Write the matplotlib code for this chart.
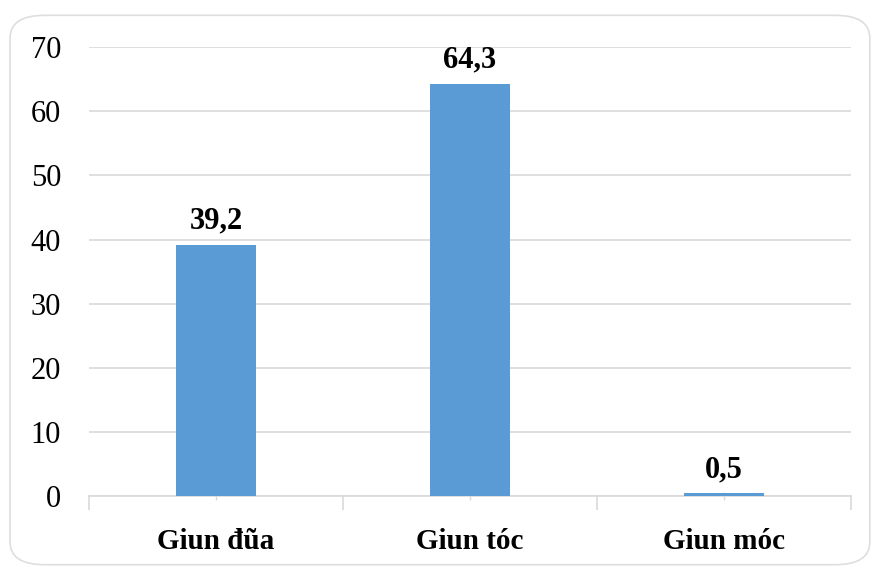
import matplotlib.pyplot as plt
import numpy as np
from matplotlib.patches import FancyBboxPatch

categories = ["Giun đũa", "Giun tóc", "Giun móc"]
values = [39.2, 64.3, 0.5]
value_labels = ["39,2", "64,3", "0,5"]
yticks = [0, 10, 20, 30, 40, 50, 60, 70]

plt.rcParams['font.family'] = ['Liberation Serif', 'DejaVu Serif']

fig = plt.figure(figsize=(8.72, 5.67), dpi=100)
# rounded chart frame
fig.patches.append(FancyBboxPatch((0.0115, 0.004), 0.986, 0.969,
                                  boxstyle="round,pad=0,rounding_size=0.04",
                                  transform=fig.transFigure, facecolor='white',
                                  edgecolor='#dedede', linewidth=1.2, zorder=-5))
ax = fig.add_axes([0.102, 0.125, 0.874, 0.792])
ax.patch.set_alpha(0)

x = np.arange(len(categories))
bars = ax.bar(x, values, width=0.315, color='#5b9bd5', zorder=3)
for xi, v, lab in zip(x, values, value_labels):
    ax.text(xi, v + 1.4, lab, ha='center', va='bottom', fontsize=22, fontweight='bold')

ax.set_xlim(-0.5, len(categories) - 0.5)
ax.set_ylim(0, 70)
ax.set_yticks(yticks)
ax.yaxis.grid(True, color='#d9d9d9', linewidth=1.2, zorder=0)
ax.tick_params(axis='y', length=0, labelsize=22, pad=20)

ax.set_xticks(x)
ax.set_xticklabels(categories, fontsize=21, fontweight='bold')
ax.set_xticks(np.arange(len(categories) + 1) - 0.5, minor=True)
ax.tick_params(axis='x', which='major', length=6, direction='inout',
               color='#d9d9d9', width=1, pad=20)
ax.tick_params(axis='x', which='minor', length=10, color='#d9d9d9', width=1.2)

for s in ['top', 'right', 'left']:
    ax.spines[s].set_visible(False)
ax.spines['bottom'].set_color('#d9d9d9')
ax.spines['bottom'].set_linewidth(1.2)

fig.savefig('out.png', dpi=100)
